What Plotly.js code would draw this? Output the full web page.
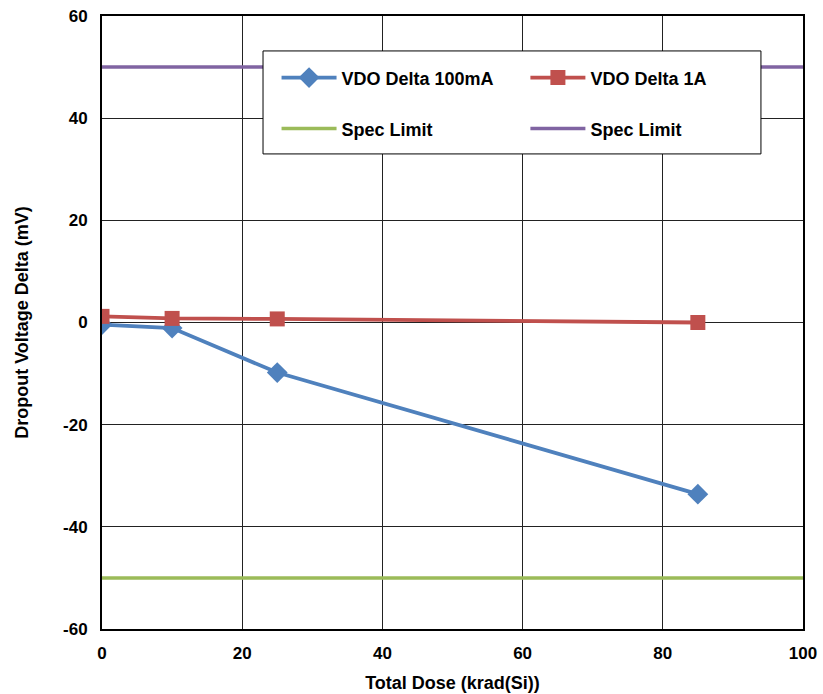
<!DOCTYPE html>
<html><head><meta charset="utf-8">
<script src="https://cdn.plot.ly/plotly-3.0.1.min.js"></script>
<style>body{margin:0;background:#fff}#c{width:823px;height:694px}</style>
</head><body><div id="c"></div>
<script>
const dose = [0, 10, 25, 85];
const vdo100mA = [-0.4, -1.1, -9.8, -33.6];
const vdo1A = [1.2, 0.8, 0.7, 0.0];
const specX = [0, 100];
const specLow = [-50, -50];
const specHigh = [50, 50];
const xTickVals = [0, 20, 40, 60, 80, 100];
const xTickText = ["0", "20", "40", "60", "80", "100"];
const yTickVals = [-60, -40, -20, 0, 20, 40, 60];
const yTickText = ["-60", "-40", "-20", "0", "20", "40", "60"];

const F = "Liberation Sans, Arial, sans-serif";
const traces = [
  {x: dose, y: vdo100mA, name: "VDO Delta 100mA", mode: "lines+markers",
   line: {color: "#4F81BD", width: 3.8}, marker: {symbol: "diamond", size: 16, color: "#4F81BD"}, legend: "legend"},
  {x: dose, y: vdo1A, name: "VDO Delta 1A", mode: "lines+markers",
   line: {color: "#C0504D", width: 3.8}, marker: {symbol: "square", size: 15, color: "#C0504D"}, legend: "legend2"},
  {x: specX, y: specLow, name: "Spec Limit", mode: "lines",
   line: {color: "#9BBB59", width: 3.5}, legend: "legend3"},
  {x: specX, y: specHigh, name: "Spec Limit", mode: "lines",
   line: {color: "#8064A2", width: 3.5}, legend: "legend4"}
];
function leg(x, y) {
  return {x: x, y: y, orientation: "v", bgcolor: "rgba(0,0,0,0)", borderwidth: 0,
    font: {family: F, size: 18, color: "#000", weight: "bold"},
    xanchor: "left", yanchor: "middle", itemwidth: 55};
}
const tf = {family: F, size: 17, weight: "bold", color: "#000"};
const ttf = {family: F, size: 18, weight: "bold", color: "#000"};
const layout = {
  width: 823, height: 694,
  margin: {l: 102, r: 20, t: 16, b: 65},
  paper_bgcolor: "#fff", plot_bgcolor: "#fff",
  font: {family: F, color: "#000"},
  showlegend: true,
  xaxis: {range: [0, 100], tickmode: "array", tickvals: xTickVals, ticktext: xTickText,
    showgrid: true, gridcolor: "#222", gridwidth: 1,
    showline: true, linecolor: "#000", linewidth: 2, mirror: true, zeroline: false,
    ticks: "", tickfont: tf, ticklabelstandoff: 8,
    title: {text: "Total Dose (krad(Si))", font: ttf, standoff: 14}},
  yaxis: {range: [-60, 60], tickmode: "array", tickvals: yTickVals, ticktext: yTickText,
    showgrid: true, gridcolor: "#222", gridwidth: 1,
    showline: true, linecolor: "#000", linewidth: 2, mirror: true, zeroline: true, zerolinecolor: "#222", zerolinewidth: 1,
    ticks: "", tickfont: tf, ticklabelstandoff: 9,
    title: {text: "Dropout Voltage Delta (mV)", font: ttf, standoff: 30}},
  legend: leg(0.249, 0.899),
  legend2: leg(0.604, 0.899),
  legend3: leg(0.249, 0.816),
  legend4: leg(0.604, 0.816),
  shapes: [{type: "rect", xref: "paper", yref: "paper", x0: 0.2297, x1: 0.940, y0: 0.775, y1: 0.943,
    line: {color: "#000", width: 1}, fillcolor: "#fff", layer: "above"}]
};
Plotly.newPlot("c", traces, layout, {displayModeBar: false});
</script></body></html>
